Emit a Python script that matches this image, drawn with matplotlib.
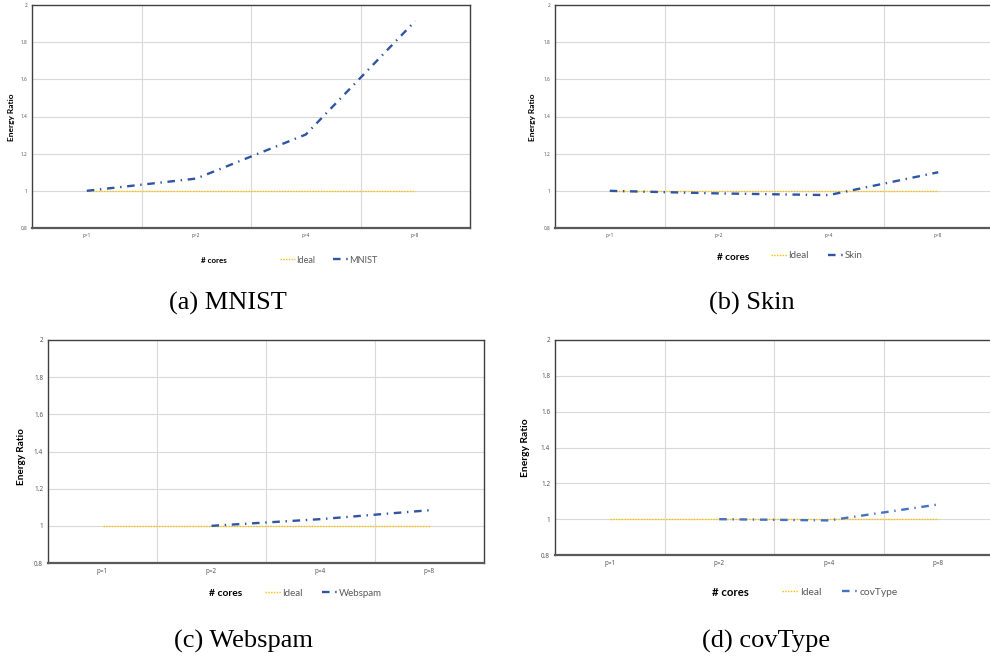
import numpy as np
import matplotlib
matplotlib.use("Agg")
import matplotlib.pyplot as plt

# ---------------- data ----------------
cores = ["p=1", "p=2", "p=4", "p=8"]
y_ticks = [0.8, 1.0, 1.2, 1.4, 1.6, 1.8, 2.0]
y_tick_labels = ["0.8", "1", "1.2", "1.4", "1.6", "1.8", "2"]

ideal = [1.0, 1.0, 1.0, 1.0]
mnist = [1.0, 1.066, 1.303, 1.914]
skin = [1.0, 0.986, 0.977, 1.10]
webspam = [np.nan, 1.0, 1.036, 1.084]
covtype = [np.nan, 1.0, 0.993, 1.082]

series_names = ["MNIST", "Skin", "Webspam", "covType"]
captions = ["(a) MNIST", "(b) Skin", "(c) Webspam", "(d) covType"]

# ---------------- layout ----------------
W, H = 990, 661
fig = plt.figure(figsize=(W / 100, H / 100), dpi=100)

SANS = ["Lato", "DejaVu Sans"]
TICKF = ["Noto Sans", "DejaVu Sans"]
SERIF = ["Liberation Serif", "DejaVu Serif"]


def rect(l, t, r, b):
    return [l / W, 1 - b / H, (r - l) / W, (b - t) / H]


def fx(x):
    return x / W


def fy(y):
    return 1 - y / H


panels = [
    dict(box=(32, 5, 470, 228), data=mnist, color="#2F55A4", tick_fs=3.4,
         ylab=(12, 117, 6.0), cores=(214, 260, 5.8), leg=(280, 260, 6.6),
         cap=(228, 303)),
    dict(box=(555, 5, 993, 228), data=skin, color="#2F55A4", tick_fs=3.4,
         ylab=(533, 117, 6.0), cores=(733, 257, 7.2), leg=(771, 256, 7.0),
         cap=(752, 303)),
    dict(box=(48, 340, 484, 563), data=webspam, color="#2F55A4", tick_fs=4.6,
         ylab=(22, 457, 7.2), cores=(226, 593, 7.4), leg=(265, 593, 7.0),
         cap=(244, 641)),
    dict(box=(555, 340, 993, 555), data=covtype, color="#4472C4", tick_fs=4.6,
         ylab=(526, 448, 7.4), cores=(730, 592, 8.2), leg=(782, 592, 7.4),
         cap=(766, 641)),
]

x = np.arange(len(cores))

for p, name, cap in zip(panels, series_names, captions):
    ax = fig.add_axes(rect(*p["box"]))
    ax.set_xlim(-0.5, len(cores) - 0.5)
    ax.set_ylim(0.8, 2.0)

    # grid
    for yv in y_ticks[1:-1]:
        ax.axhline(yv, color="#d9d9d9", lw=0.8, zorder=0)
    for xv in x[:-1] + 0.5:
        ax.axvline(xv, color="#d9d9d9", lw=0.8, zorder=0)

    # lines
    ax.plot(x, ideal, color="#FFC000", lw=1.0, dashes=(1, 1), label="Ideal",
            zorder=2)
    ax.plot(x, p["data"], color=p["color"], lw=1.7,
            dashes=(3.2, 2.4, 0.6, 2.4), label=name, zorder=3)

    # spines
    for s in ["left", "top", "right"]:
        ax.spines[s].set_color("#404040")
        ax.spines[s].set_linewidth(1.0)
    ax.spines["bottom"].set_color("#595959")
    ax.spines["bottom"].set_linewidth(1.6)

    ax.set_yticks(y_ticks)
    ax.set_yticklabels(y_tick_labels)
    ax.set_xticks(x)
    ax.set_xticklabels(cores)
    ax.tick_params(length=0, labelsize=p["tick_fs"], labelcolor="#595959",
                   pad=3.5)
    for lab in ax.get_xticklabels() + ax.get_yticklabels():
        lab.set_fontfamily(TICKF)

    # y label
    xl, yl, fsl = p["ylab"]
    fig.text(fx(xl), fy(yl), "Energy Ratio", rotation=90, ha="center",
             va="center", fontsize=fsl, fontweight="bold", family=SANS,
             color="#000000")

    # x axis title
    xc, yc, fsc = p["cores"]
    fig.text(fx(xc), fy(yc), "# cores", ha="center", va="center",
             fontsize=fsc, fontweight="bold", family=SANS, color="#000000")

    # legend
    xg, yg, fsg = p["leg"]
    leg = ax.legend(loc="center left", bbox_to_anchor=(fx(xg), fy(yg)),
                    bbox_transform=fig.transFigure, ncol=2, frameon=False,
                    handlelength=1.6, handletextpad=0.15,
                    columnspacing=2.0, borderpad=0, borderaxespad=0,
                    prop={"family": SANS, "size": fsg})
    for t in leg.get_texts():
        t.set_color("#595959")

    # caption
    xcap, ycap = p["cap"]
    fig.text(fx(xcap), fy(ycap), cap, ha="center", va="center",
             fontsize=19, family=SERIF, color="#000000")

fig.savefig("out.png", dpi=100)
